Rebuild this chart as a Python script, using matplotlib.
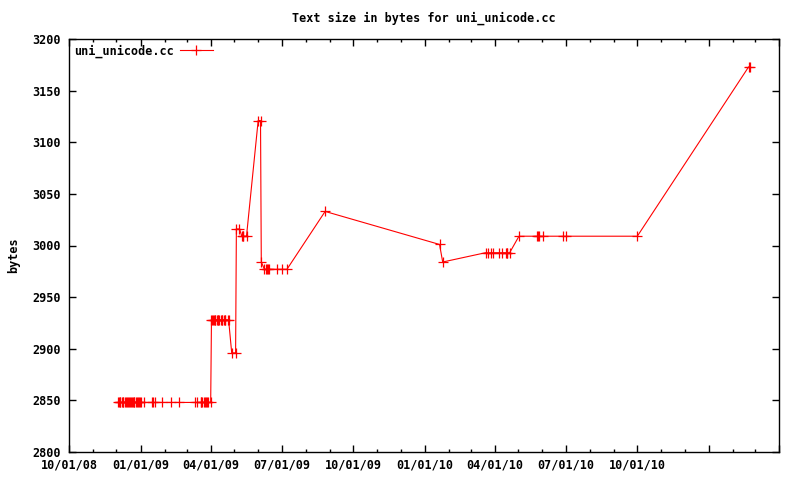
import matplotlib
matplotlib.use('Agg')
import matplotlib.pyplot as plt
import matplotlib.dates as mdates
from matplotlib.ticker import FuncFormatter
import numpy as np

title = "Text size in bytes for uni_unicode.cc"
ylabel = "bytes"
series_name = "uni_unicode.cc"

dates = [
    "2008-12-03", "2008-12-04", "2008-12-05", "2008-12-06", "2008-12-08",
    "2008-12-09", "2008-12-10", "2008-12-12", "2008-12-13", "2008-12-14",
    "2008-12-16", "2008-12-17", "2008-12-18", "2008-12-19", "2008-12-21",
    "2008-12-22", "2008-12-23", "2008-12-24", "2008-12-26", "2008-12-27",
    "2008-12-28", "2008-12-30", "2008-12-31", "2009-01-01",
    "2009-01-05", "2009-01-15", "2009-01-17", "2009-01-19", "2009-01-28",
    "2009-02-09", "2009-02-19", "2009-03-12", "2009-03-14", "2009-03-19",
    "2009-03-20", "2009-03-21", "2009-03-24", "2009-03-25", "2009-03-26",
    "2009-03-27", "2009-03-28", "2009-04-01",
    "2009-04-02", "2009-04-03", "2009-04-04", "2009-04-05", "2009-04-06",
    "2009-04-07", "2009-04-09", "2009-04-10", "2009-04-11", "2009-04-12",
    "2009-04-14", "2009-04-15", "2009-04-16", "2009-04-18", "2009-04-19",
    "2009-04-20", "2009-04-23", "2009-04-24",
    "2009-04-28", "2009-05-03",
    "2009-05-04", "2009-05-08",
    "2009-05-11", "2009-05-12", "2009-05-13", "2009-05-17",
    "2009-06-01", "2009-06-04",
    "2009-06-05",
    "2009-06-09", "2009-06-11", "2009-06-12", "2009-06-14", "2009-06-15",
    "2009-06-25", "2009-07-02", "2009-07-08",
    "2009-08-26",
    "2010-01-20",
    "2010-01-24",
    "2010-03-20", "2010-03-23", "2010-03-27", "2010-03-29", "2010-04-06",
    "2010-04-10", "2010-04-15", "2010-04-16", "2010-04-17", "2010-04-20",
    "2010-05-02", "2010-05-25", "2010-05-26", "2010-05-28", "2010-06-02",
    "2010-06-27", "2010-07-01", "2010-10-01",
    "2011-02-21", "2011-02-23",
]

values = [
    2848, 2848, 2848, 2848, 2848,
    2848, 2848, 2848, 2848, 2848,
    2848, 2848, 2848, 2848, 2848,
    2848, 2848, 2848, 2848, 2848,
    2848, 2848, 2848, 2848,
    2848, 2848, 2848, 2848, 2848,
    2848, 2848, 2848, 2848, 2848,
    2848, 2848, 2848, 2848, 2848,
    2848, 2848, 2848,
    2928, 2928, 2928, 2928, 2928,
    2928, 2928, 2928, 2928, 2928,
    2928, 2928, 2928, 2928, 2928,
    2928, 2928, 2928,
    2896, 2896,
    3016, 3016,
    3009, 3009, 3009, 3009,
    3121, 3121,
    2984,
    2977, 2977, 2977, 2977, 2977,
    2977, 2977, 2977,
    3033,
    3001,
    2984,
    2993, 2993, 2993, 2993, 2993,
    2993, 2993, 2993, 2993, 2993,
    3009, 3009, 3009, 3009, 3009,
    3009, 3009, 3009,
    3173, 3173,
]

x_start = "2008-10-01"
x_end = "2011-04-01"
y_min, y_max, y_step = 2800, 3200, 50
x_label_last = "2010-10-01"

font = {'family': 'DejaVu Sans Mono', 'weight': 'bold', 'size': 8.5}

fig = plt.figure(figsize=(8, 4.8), dpi=100)
ax = fig.add_axes([69 / 800, 1 - 452 / 480, 710 / 800, 413 / 480])

x = np.array(dates, dtype='datetime64[D]')
ax.plot(x, values, color='#ff0000', lw=0.8, marker='+', ms=6.5, mew=0.9,
        label=series_name)

ax.set_xlim(np.datetime64(x_start), np.datetime64(x_end))
ax.set_ylim(y_min, y_max)
ax.set_yticks(np.arange(y_min, y_max + 1, y_step))

ax.xaxis.set_major_locator(mdates.MonthLocator(bymonth=[1, 4, 7, 10]))
ax.xaxis.set_minor_locator(mdates.MonthLocator())
last = mdates.date2num(np.datetime64(x_label_last))


def fmt(v, pos):
    if v > last + 1:
        return ""
    return mdates.num2date(v).strftime('%m/%d/%y')


ax.xaxis.set_major_formatter(FuncFormatter(fmt))

ax.tick_params(which='major', direction='in', top=True, right=True,
               length=5, width=1, pad=5)
ax.tick_params(which='minor', direction='in', top=True, right=True,
               length=2.5, width=1)
ax.tick_params(axis='y', pad=6)
for lab in ax.get_xticklabels() + ax.get_yticklabels():
    lab.set_fontfamily(font['family'])
    lab.set_fontweight(font['weight'])
    lab.set_fontsize(font['size'])
for s in ax.spines.values():
    s.set_linewidth(1)

fig.text(424 / 800, 1 - 18 / 480, title, ha='center', va='center', **font)
fig.text(14 / 800, 1 - 255 / 480, ylabel, ha='center', va='center',
         rotation=90, **font)

ax.legend(loc='upper left', frameon=False, markerfirst=False,
          handlelength=2.8, borderaxespad=0.15, borderpad=0.3,
          handletextpad=0.5, prop=font)

fig.savefig('out.png', dpi=100)
